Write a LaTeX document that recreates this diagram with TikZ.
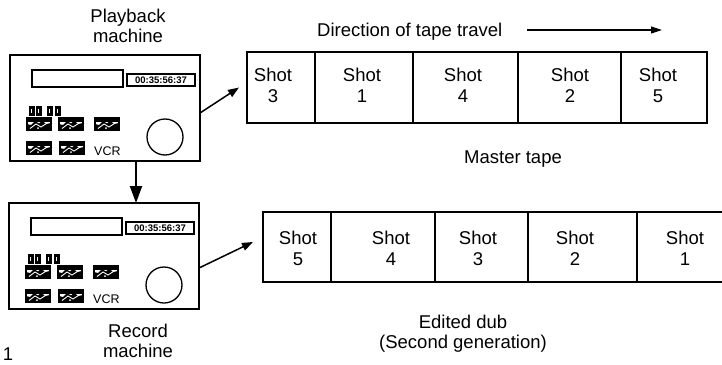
\documentclass[tikz,border=0pt]{standalone}
\usepackage{fontspec}
\setmainfont{Liberation Sans}
\usetikzlibrary{arrows.meta,calc}

% one picture key on the VCR panel, 24 by 12 from its top-left corner
\newcommand\vcrkey[2]{%
  \begin{scope}[shift={(#1,#2)}]
    \fill (0,0) rectangle (24,4);
    \fill (0,12) -- (0,6) -- (4,7) -- (8,3) -- (12,5.5) -- (15,2.5) -- (19,6)
          -- (24,5) -- (24,12) -- cycle;
    \draw[white, line width=0.9pt] (3,10.5) -- (9,6) -- (14,9) -- (21,4.5);
    \fill[white] (11,10) circle[radius=1];
    \draw[line width=1.5pt] (0,0) rectangle (24,12);
  \end{scope}}
% front panel of a VCR, drawn from the top-left corner of its case
\newcommand\vcrface[1]{%
  \draw[line width=1.3pt] (22,15) rectangle (113,32);
  \draw[line width=1.8pt] (117,19) rectangle (185,31);
  \node[inner sep=0pt, font=\fontsize{9.5}{10}\selectfont\bfseries] (#1-tc)
    at (151,25) {00:35:56:37};
  \foreach \bx in {19,26,37,45}{
    \fill (\bx,51) rectangle ++(5.5,9.5);
    \fill[white] (\bx+2.2,53.5) rectangle ++(1.1,4.5);}
  \vcrkey{17}{63}\vcrkey{49}{63}\vcrkey{85}{63}
  \vcrkey{17}{87}\vcrkey{50}{87}
  \node[anchor=base west, inner sep=0pt, font=\fontsize{12.5}{14}\selectfont]
    (#1-vcr) at (84,100) {VCR};
  \draw[line width=1.3pt] (155,82) circle[radius=18];}

\begin{document}
\begin{tikzpicture}[x=1pt,y=-1pt,
  txt/.style={font=\fontsize{18.5}{20}\selectfont, align=center, inner sep=0pt},
  shotlbl/.style={font=\fontsize{18.5}{21}\selectfont, align=center, inner sep=0pt},
  vcrcase/.style={draw, line width=2pt, minimum width=190pt, minimum height=106pt,
    inner sep=0pt, outer sep=0pt, anchor=north west},
  cell/.style={draw, line width=1.1pt, inner sep=0pt, outer sep=0pt, anchor=north west},
  mcell/.style={cell, minimum height=71pt},
  ecell/.style={cell, minimum height=70pt},
  bigarrow/.style={line width=2pt, -{Triangle[length=17pt,width=12pt]}},
  feedarrow/.style={line width=1.5pt, -{Triangle[length=11pt,width=8pt]}}]
\useasboundingbox (0,0) rectangle (722,364);

% machines
\node[vcrcase] (pb) at (10,55) {};
\begin{scope}[shift={(pb.north west)}]\vcrface{pb}\end{scope}
\node[vcrcase] (rec) at (9,203) {};
\begin{scope}[shift={(rec.north west)}]\vcrface{rec}\end{scope}

\node[txt] (pblabel) at (128,26.3) {Playback\\machine};
\node[txt] (reclabel) at (138,341) {Record\\machine};
\node[txt, anchor=base] (fig) at (8,360) {1};

% master tape
\node[mcell, minimum width=68pt] (m1) at (247,52) {};
\node[mcell, minimum width=98pt] (m2) at (m1.north east) {};
\node[mcell, minimum width=105pt] (m3) at (m2.north east) {};
\node[mcell, minimum width=103pt] (m4) at (m3.north east) {};
\node[mcell, minimum width=86pt] (m5) at (m4.north east) {};
\node[shotlbl] (ms1) at (273,85.5) {Shot\\3};
\node[shotlbl] (ms2) at (362,85.5) {Shot\\1};
\node[shotlbl] (ms3) at (463,85.5) {Shot\\4};
\node[shotlbl] (ms4) at (570,85.5) {Shot\\2};
\node[shotlbl] (ms5) at (658,85.5) {Shot\\5};
\node[txt, anchor=base] (master) at (513,163) {Master tape};

\node[txt, anchor=base west] (dir) at (317,36) {Direction of tape travel};
\coordinate (dirend) at (662,30);
\draw[line width=1.1pt, -{Triangle[length=11pt,width=7pt]}]
  ([xshift=25pt]dir.east |- dirend) -- (dirend);

% edited dub
\node[ecell, minimum width=68pt] (e1) at (263,212) {};
\node[ecell, minimum width=104pt] (e2) at (e1.north east) {};
\node[ecell, minimum width=93pt] (e3) at (e2.north east) {};
\node[ecell, minimum width=109pt] (e4) at (e3.north east) {};
\node[inner sep=0pt, outer sep=0pt, anchor=north west, minimum width=85pt,
  minimum height=70pt] (e5) at (e4.north east) {};
\draw[line width=1.1pt] (e5.north west) -- (e5.north east)
  (e5.south west) -- (e5.south east);
\node[shotlbl] (es1) at (298,248) {Shot\\5};
\node[shotlbl] (es2) at (391,248) {Shot\\4};
\node[shotlbl] (es3) at (478,248) {Shot\\3};
\node[shotlbl] (es4) at (575,248) {Shot\\2};
\node[shotlbl] (es5) at (685,248) {Shot\\1};
\node[txt] (dub) at (463,334) {Edited dub\\(Second generation)};

% connectors
\coordinate (dn) at ([xshift=31pt]pb.south);
\draw[bigarrow] (dn) -- (dn |- rec.north);
\draw[feedarrow] ([yshift=-5pt]pb.east) -- ([xshift=-8pt]m1.west);
\draw[feedarrow] ([yshift=-12pt]rec.east) -- ([xshift=-10pt,yshift=5pt]e1.west);
\end{tikzpicture}
\end{document}
